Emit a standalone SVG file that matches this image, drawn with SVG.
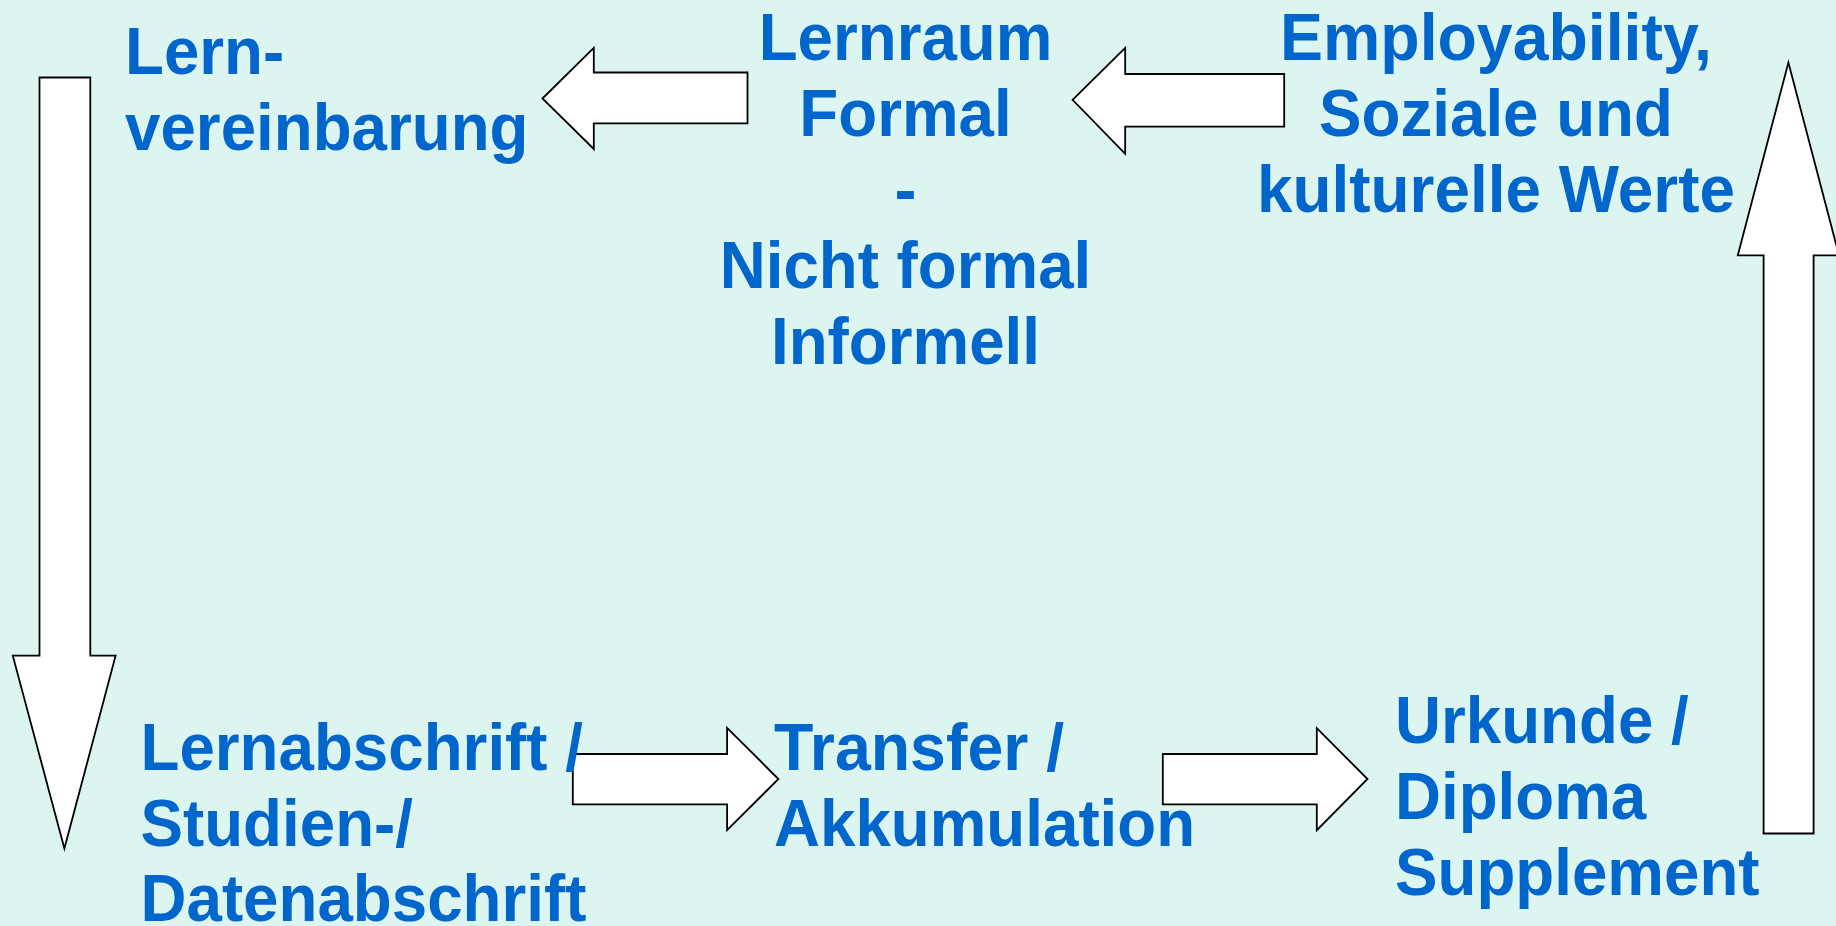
<svg xmlns="http://www.w3.org/2000/svg" width="1836" height="926" viewBox="0 0 1836 926">
<style>
.bg{fill:#DCF5F1}
.arr{fill:#FFFFFF;stroke:#000000;stroke-width:1.8;stroke-linejoin:miter}
.t{font-family:"Liberation Sans",Arial,Helvetica,sans-serif;font-weight:bold;font-size:66px;fill:#0066CC}
.c{text-anchor:middle}
</style>
<rect class="bg" x="0" y="0" width="1836" height="926"/>
<g id="connectors">
<polygon class="arr" points="39.5,77.5 90.3,77.5 90.3,655.7 115.6,655.7 64.4,848.5 12.8,655.7 39.5,655.7"/>
<polygon class="arr" points="542.5,98.5 593.8,47.8 593.8,72.5 747.5,72.5 747.5,123.3 593.8,123.3 593.8,149"/>
<polygon class="arr" points="1072.6,99.8 1125.2,47.8 1125.2,74 1284.2,74 1284.2,126.6 1125.2,126.6 1125.2,153.8"/>
<polygon class="arr" points="1763.6,833.5 1813.6,833.5 1813.6,255.3 1839,255.3 1788.4,62.6 1737.8,255.3 1763.6,255.3"/>
<polygon class="arr" points="572.8,754 727.1,754 727.1,727.8 778.4,779 727.1,830.2 727.1,804.3 572.8,804.3"/>
<polygon class="arr" points="1162.8,754 1316.8,754 1316.8,728.2 1367.5,779 1316.8,830.2 1316.8,804.3 1162.8,804.3"/>
</g>
<g id="node-lernvereinbarung">
<text class="t" x="125" y="74" textLength="159.2" lengthAdjust="spacingAndGlyphs">Lern-</text>
<text class="t" x="125" y="150" textLength="403.5" lengthAdjust="spacingAndGlyphs">vereinbarung</text>
</g>
<g id="node-lernraum">
<text class="t c" x="905.5" y="60" textLength="293.7" lengthAdjust="spacingAndGlyphs">Lernraum</text>
<text class="t c" x="905.5" y="136" textLength="212.3" lengthAdjust="spacingAndGlyphs">Formal</text>
<text class="t c" x="905.5" y="212">-</text>
<text class="t c" x="905.5" y="288" textLength="371.6" lengthAdjust="spacingAndGlyphs">Nicht formal</text>
<text class="t c" x="905.5" y="364" textLength="269" lengthAdjust="spacingAndGlyphs">Informell</text>
</g>
<g id="node-employability">
<text class="t c" x="1496" y="60" textLength="431.8" lengthAdjust="spacingAndGlyphs">Employability,</text>
<text class="t c" x="1496" y="136" textLength="353.9" lengthAdjust="spacingAndGlyphs">Soziale und</text>
<text class="t c" x="1496" y="212" textLength="477.8" lengthAdjust="spacingAndGlyphs">kulturelle Werte</text>
</g>
<g id="node-lernabschrift">
<text class="t" x="140.5" y="770" textLength="442.4" lengthAdjust="spacingAndGlyphs">Lernabschrift /</text>
<text class="t" x="140.5" y="846" textLength="272.5" lengthAdjust="spacingAndGlyphs">Studien-/</text>
<text class="t" x="140.5" y="921" textLength="445.9" lengthAdjust="spacingAndGlyphs">Datenabschrift</text>
</g>
<g id="node-transfer">
<text class="t" x="774" y="770" textLength="290.2" lengthAdjust="spacingAndGlyphs">Transfer /</text>
<text class="t" x="774" y="846" textLength="421.1" lengthAdjust="spacingAndGlyphs">Akkumulation</text>
</g>
<g id="node-urkunde">
<text class="t" x="1395" y="743" textLength="293.7" lengthAdjust="spacingAndGlyphs">Urkunde /</text>
<text class="t" x="1395" y="819" textLength="251.3" lengthAdjust="spacingAndGlyphs">Diploma</text>
<text class="t" x="1395" y="895" textLength="364.5" lengthAdjust="spacingAndGlyphs">Supplement</text>
</g>
</svg>
